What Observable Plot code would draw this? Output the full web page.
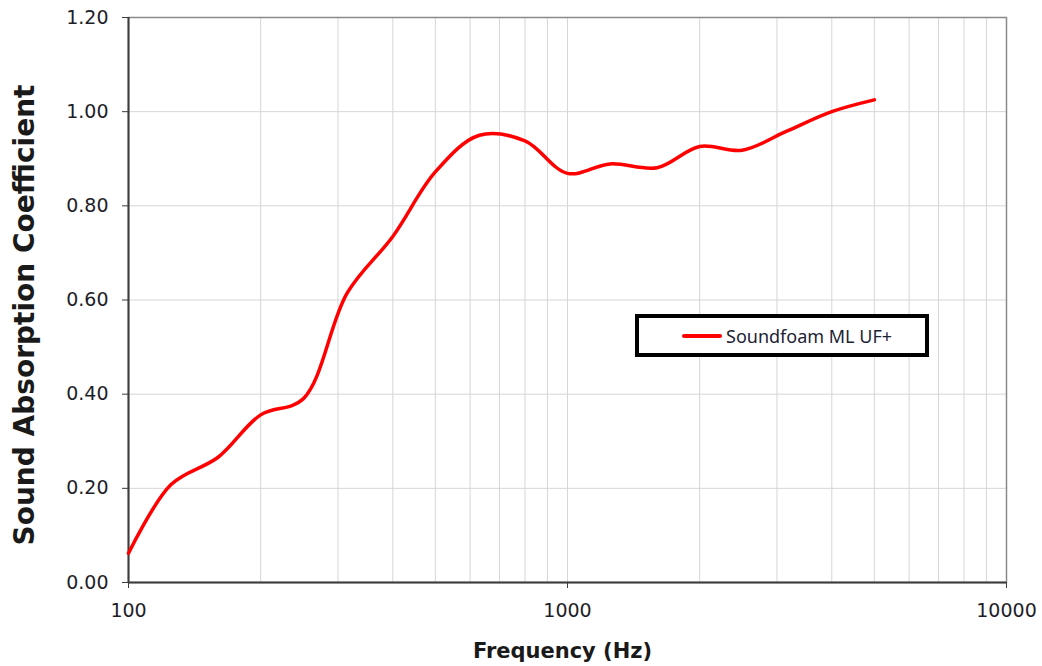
<!DOCTYPE html>
<html>
<head>
<meta charset="utf-8">
<script src="https://cdn.jsdelivr.net/npm/d3@7"></script>
<script src="https://cdn.jsdelivr.net/npm/@observablehq/plot@0.6"></script>
<style>
  html, body { margin: 0; padding: 0; background: #fff; }
  #wrap { position: relative; width: 1042px; height: 666px; }
  #legend {
    position: absolute; left: 635px; top: 314px; width: 286px; height: 35px;
    border: 4px solid #000; background: #fff;
    display: flex; align-items: center;
    font-family: "Noto Sans", sans-serif; font-size: 18px; color: #1c2333;
  }
  #legend .swatch { width: 40px; height: 4px; background: #ff0000; border-radius: 2px; margin-left: 43px; margin-right: 4px; }
</style>
</head>
<body>
<div id="wrap"></div>
<script>
// Data (1/3-octave band centre frequencies)
const frequencies = [100, 125, 160, 200, 250, 315, 400, 500, 630, 800, 1000, 1250, 1600, 2000, 2500, 3150, 4000, 5000];
const absorption  = [0.062, 0.208, 0.266, 0.356, 0.39, 0.615, 0.735, 0.872, 0.95, 0.938, 0.869, 0.889, 0.881, 0.926, 0.918, 0.958, 1.0, 1.025];
const seriesName = "Soundfoam ML UF+";
const xDomain = [100, 10000];
const yDomain = [0, 1.2];
const xTicks = [100, 1000, 10000];
const xGridTicks = [200, 300, 400, 500, 600, 700, 800, 900, 2000, 3000, 4000, 5000, 6000, 7000, 8000, 9000];
const yTicks = [0, 0.2, 0.4, 0.6, 0.8, 1.0, 1.2];
const xTitle = "Frequency (Hz)";
const yTitle = "Sound Absorption Coefficient";

const data = frequencies.map((f, i) => ({f, a: absorption[i]}));

const chart = Plot.plot({
  width: 1042,
  height: 666,
  marginLeft: 128,
  marginRight: 36,
  marginTop: 17,
  marginBottom: 84,
  style: {fontFamily: "DejaVu Sans, sans-serif", fontSize: "19px", color: "#1e1e28", background: "#fff"},
  x: {type: "log", domain: xDomain},
  y: {domain: yDomain},
  marks: [
    Plot.gridX(xGridTicks, {stroke: "#d6d6d6", strokeOpacity: 1, strokeWidth: 1}),
    Plot.gridX(xTicks, {stroke: "#d6d6d6", strokeOpacity: 1, strokeWidth: 1}),
    Plot.gridY(yTicks, {stroke: "#d6d6d6", strokeOpacity: 1, strokeWidth: 1}),
    Plot.frame({stroke: "#8a8a8a", strokeWidth: 1.5}),
    Plot.ruleX([xDomain[0]], {stroke: "#3c3c3c", strokeWidth: 2}),
    Plot.ruleY([yDomain[0]], {stroke: "#3c3c3c", strokeWidth: 2}),
    Plot.axisY(yTicks, {tickFormat: d3.format(".2f"), tickSize: 6, tickPadding: 14, label: null, stroke: "#3c3c3c"}),
    Plot.axisX(xTicks, {tickFormat: d => String(d), tickSize: 6, tickPadding: 15, label: null, stroke: "#3c3c3c"}),
    Plot.line(data, {x: "f", y: "a", stroke: "#ff0000", strokeWidth: 3.5, curve: "catmull-rom"}),
    Plot.text([yTitle], {frameAnchor: "left", textAnchor: "middle", lineAnchor: "middle", dx: -103, dy: 15, rotate: -90, fontWeight: "bold", fontSize: 28, fontFamily: "DejaVu Sans", fill: "#1a1a1a"}),
    Plot.text([xTitle], {frameAnchor: "bottom", lineAnchor: "middle", dx: -5, dy: 69, fontWeight: "bold", fontSize: 21, fontFamily: "DejaVu Sans", fill: "#1a1a1a"})
  ]
});

const wrap = document.getElementById("wrap");
wrap.appendChild(chart);
const legend = document.createElement("div");
legend.id = "legend";
legend.innerHTML = `<div class="swatch"></div><span></span>`;
legend.querySelector("span").textContent = seriesName;
wrap.appendChild(legend);
</script>
</body>
</html>
